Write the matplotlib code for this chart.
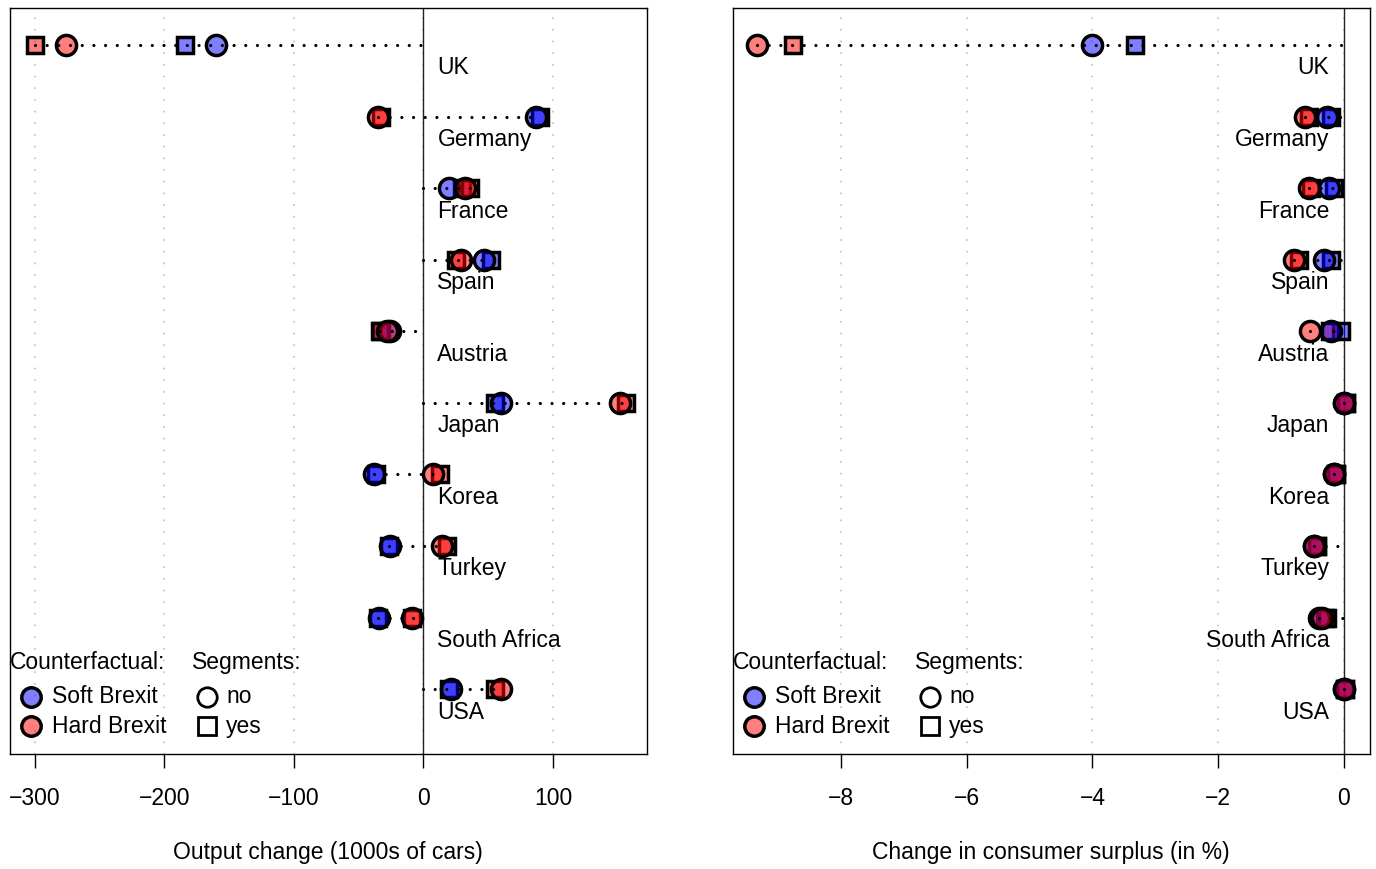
import matplotlib
matplotlib.use('Agg')
import matplotlib.pyplot as plt

plt.rcParams['font.family'] = ['Liberation Sans', 'DejaVu Sans']
plt.rcParams['lines.scale_dashes'] = False

countries = ['UK', 'Germany', 'France', 'Spain', 'Austria', 'Japan', 'Korea',
             'Turkey', 'South Africa', 'USA']

# output change, 1000s of cars
out_soft_no = [-160, 86.5, 19.5, 47, -25.5, 60, -38.5, -25.5, -34.5, 21]
out_soft_yes = [-184, 90, 30, 52, -33, 55, -37, -27, -35, 20]
out_hard_no = [-276, -35.5, 32, 29, -28, 152, 7.5, 14.5, -8.5, 59.5]
out_hard_yes = [-300, -32.5, 36, 25, -33.5, 156, 12.5, 18.5, -9, 55]

# change in consumer surplus, %
cs_soft_no = [-4.0, -0.26, -0.23, -0.31, -0.2, 0.0, -0.15, -0.48, -0.4, 0.0]
cs_soft_yes = [-3.33, -0.2, -0.16, -0.2, -0.05, 0.03, -0.12, -0.43, -0.3, 0.02]
cs_hard_no = [-9.34, -0.62, -0.55, -0.79, -0.54, 0.01, -0.15, -0.47, -0.34, 0.0]
cs_hard_yes = [-8.76, -0.55, -0.52, -0.71, -0.22, 0.04, -0.12, -0.42, -0.27, 0.02]

soft_col = (0, 0, 1, 0.5)
hard_col = (1, 0, 0, 0.5)
FS = 16.5
ypos = list(range(len(countries), 0, -1))

fig = plt.figure(figsize=(13.76, 8.69), dpi=100)
ax1 = fig.add_axes([10 / 1376, 115 / 869, 636.5 / 1376, 746 / 869])
ax2 = fig.add_axes([733 / 1376, 115 / 869, 636.5 / 1376, 746 / 869])


def panel(ax, soft_no, soft_yes, hard_no, hard_yes, xlim, ticks, xlabel, left_labels):
    ax.set_xlim(xlim)
    ax.set_ylim(0.094, 10.516)
    for t in ticks:
        ax.axvline(t, color='#cccccc', lw=1.6, ls=(0, (0.01, 8.4)),
                   dash_capstyle='round', zorder=0)
    ax.axvline(0, color='#222222', lw=1.0, zorder=1)
    for i, y in enumerate(ypos):
        vals = [soft_no[i], soft_yes[i], hard_no[i], hard_yes[i], 0]
        ax.plot([min(vals), max(vals)], [y, y], color='black', lw=2.3,
                ls=(0, (0.01, 8.4)), dash_capstyle='round', zorder=5)
        if left_labels:
            ax.annotate(countries[i], (0, y), xytext=(10, -16.5), textcoords='offset points',
                        ha='left', va='center', fontsize=FS)
        else:
            ax.annotate(countries[i], (0, y), xytext=(-10.5, -16.5), textcoords='offset points',
                        ha='right', va='center', fontsize=FS)
    kw = dict(ls='none', markeredgecolor='black', markeredgewidth=2.5)
    ax.plot(soft_yes, ypos, marker='s', ms=12, color=soft_col, zorder=2, **kw)
    ax.plot(hard_yes, ypos, marker='s', ms=12, color=hard_col, zorder=2, **kw)
    ax.plot(soft_no, ypos, marker='o', ms=14.5, color=soft_col, zorder=3, **kw)
    ax.plot(hard_no, ypos, marker='o', ms=14.5, color=hard_col, zorder=3, **kw)

    ax.set_yticks([])
    ax.set_xticks(ticks)
    ax.set_xticklabels(['\u2212' + str(abs(t)) if t < 0 else str(t) for t in ticks])
    ax.tick_params(axis='x', length=10, width=1, pad=14, labelsize=FS)
    ax.set_xlabel(xlabel, fontsize=FS, labelpad=22)
    for s in ax.spines.values():
        s.set_linewidth(1.0)

    # legend
    tr = ax.transAxes
    ax.text(0.0, 0.123, 'Counterfactual:', transform=tr, ha='left', va='center', fontsize=FS)
    ax.text(0.286, 0.123, 'Segments:', transform=tr, ha='left', va='center', fontsize=FS)
    for yy, col, lab in [(0.0765, soft_col, 'Soft Brexit'), (0.0375, hard_col, 'Hard Brexit')]:
        ax.plot([0.033], [yy], transform=tr, marker='o', ms=14, color=col, clip_on=False, **kw)
        ax.text(0.066, yy, lab, transform=tr, ha='left', va='center', fontsize=FS)
    for yy, mk, ms, lab in [(0.0765, 'o', 14, 'no'), (0.0375, 's', 13, 'yes')]:
        ax.plot([0.31], [yy], transform=tr, marker=mk, ms=ms, color='white', clip_on=False,
                ls='none', markeredgecolor='black', markeredgewidth=2)
        ax.text(0.34, yy, lab, transform=tr, ha='left', va='center', fontsize=FS)


panel(ax1, out_soft_no, out_soft_yes, out_hard_no, out_hard_yes, (-319.3, 172.2),
      [-300, -200, -100, 0, 100], 'Output change (1000s of cars)', True)
panel(ax2, cs_soft_no, cs_soft_yes, cs_hard_no, cs_hard_yes, (-9.72, 0.41),
      [-8, -6, -4, -2, 0], 'Change in consumer surplus (in %)', False)

fig.savefig('out.png', dpi=100)
